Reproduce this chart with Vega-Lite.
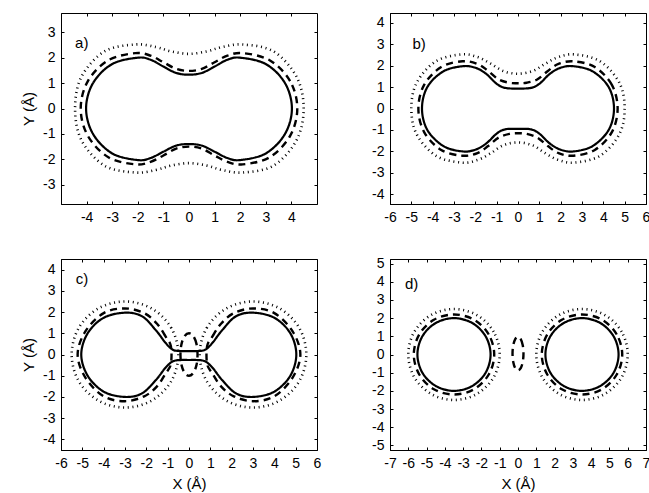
{
"$schema":"https://vega.github.io/schema/vega-lite/v6.json",
"padding":{"left":21,"top":12,"right":4,"bottom":4},
"background":"white",
"config":{"font":"Liberation Sans","view":{"stroke":"black","strokeWidth":1},
"axis":{"labelFont":"Liberation Sans","labelFontSize":14,"labelColor":"black","titleFont":"Liberation Sans","titleFontSize":15,"titleFontWeight":"normal","titleColor":"black","domainColor":"black","tickColor":"black","tickSize":-3,"labelPadding":9,"grid":false,"labelExpr":"toString(datum.value)","titlePadding":6,"labelOverlap":false,"labelFlush":false,"labelBound":false}},
"datasets":{"curves":[
{"p":"a","g":"a1","s":"solid","o":0,"x":4.02,"y":0},{"p":"a","g":"a1","s":"solid","o":1,"x":3.75,"y":1.0},{"p":"a","g":"a1","s":"solid","o":2,"x":3.0,"y":1.75},{"p":"a","g":"a1","s":"solid","o":3,"x":2.0,"y":2.0},{"p":"a","g":"a1","s":"solid","o":4,"x":1.5,"y":1.92},{"p":"a","g":"a1","s":"solid","o":5,"x":1.0,"y":1.65},{"p":"a","g":"a1","s":"solid","o":6,"x":0.5,"y":1.4},{"p":"a","g":"a1","s":"solid","o":7,"x":0,"y":1.33},{"p":"a","g":"a1","s":"solid","o":8,"x":-0.5,"y":1.4},{"p":"a","g":"a1","s":"solid","o":9,"x":-1.0,"y":1.65},{"p":"a","g":"a1","s":"solid","o":10,"x":-1.5,"y":1.92},{"p":"a","g":"a1","s":"solid","o":11,"x":-2.0,"y":2.0},{"p":"a","g":"a1","s":"solid","o":12,"x":-3.0,"y":1.75},{"p":"a","g":"a1","s":"solid","o":13,"x":-3.75,"y":1.0},{"p":"a","g":"a1","s":"solid","o":14,"x":-4.02,"y":0},{"p":"a","g":"a1","s":"solid","o":15,"x":-3.75,"y":-1.0},{"p":"a","g":"a1","s":"solid","o":16,"x":-3.0,"y":-1.77},{"p":"a","g":"a1","s":"solid","o":17,"x":-2.0,"y":-2.03},{"p":"a","g":"a1","s":"solid","o":18,"x":-1.5,"y":-1.95},{"p":"a","g":"a1","s":"solid","o":19,"x":-1.0,"y":-1.7},{"p":"a","g":"a1","s":"solid","o":20,"x":-0.5,"y":-1.46},{"p":"a","g":"a1","s":"solid","o":21,"x":0,"y":-1.4},{"p":"a","g":"a1","s":"solid","o":22,"x":0.5,"y":-1.46},{"p":"a","g":"a1","s":"solid","o":23,"x":1.0,"y":-1.7},{"p":"a","g":"a1","s":"solid","o":24,"x":1.5,"y":-1.95},{"p":"a","g":"a1","s":"solid","o":25,"x":2.0,"y":-2.03},{"p":"a","g":"a1","s":"solid","o":26,"x":3.0,"y":-1.77},{"p":"a","g":"a1","s":"solid","o":27,"x":3.75,"y":-1.0},
{"p":"a","g":"a2","s":"dashed","o":0,"x":4.23,"y":0},{"p":"a","g":"a2","s":"dashed","o":1,"x":3.95,"y":1.08},{"p":"a","g":"a2","s":"dashed","o":2,"x":3.15,"y":1.9},{"p":"a","g":"a2","s":"dashed","o":3,"x":2.1,"y":2.18},{"p":"a","g":"a2","s":"dashed","o":4,"x":1.5,"y":2.08},{"p":"a","g":"a2","s":"dashed","o":5,"x":1.0,"y":1.82},{"p":"a","g":"a2","s":"dashed","o":6,"x":0.5,"y":1.56},{"p":"a","g":"a2","s":"dashed","o":7,"x":0,"y":1.48},{"p":"a","g":"a2","s":"dashed","o":8,"x":-0.5,"y":1.56},{"p":"a","g":"a2","s":"dashed","o":9,"x":-1.0,"y":1.82},{"p":"a","g":"a2","s":"dashed","o":10,"x":-1.5,"y":2.08},{"p":"a","g":"a2","s":"dashed","o":11,"x":-2.1,"y":2.18},{"p":"a","g":"a2","s":"dashed","o":12,"x":-3.15,"y":1.9},{"p":"a","g":"a2","s":"dashed","o":13,"x":-3.95,"y":1.08},{"p":"a","g":"a2","s":"dashed","o":14,"x":-4.23,"y":0},{"p":"a","g":"a2","s":"dashed","o":15,"x":-3.95,"y":-1.08},{"p":"a","g":"a2","s":"dashed","o":16,"x":-3.15,"y":-1.92},{"p":"a","g":"a2","s":"dashed","o":17,"x":-2.1,"y":-2.2},{"p":"a","g":"a2","s":"dashed","o":18,"x":-1.5,"y":-2.1},{"p":"a","g":"a2","s":"dashed","o":19,"x":-1.0,"y":-1.85},{"p":"a","g":"a2","s":"dashed","o":20,"x":-0.5,"y":-1.58},{"p":"a","g":"a2","s":"dashed","o":21,"x":0,"y":-1.5},{"p":"a","g":"a2","s":"dashed","o":22,"x":0.5,"y":-1.58},{"p":"a","g":"a2","s":"dashed","o":23,"x":1.0,"y":-1.85},{"p":"a","g":"a2","s":"dashed","o":24,"x":1.5,"y":-2.1},{"p":"a","g":"a2","s":"dashed","o":25,"x":2.1,"y":-2.2},{"p":"a","g":"a2","s":"dashed","o":26,"x":3.15,"y":-1.92},{"p":"a","g":"a2","s":"dashed","o":27,"x":3.95,"y":-1.08},
{"p":"a","g":"a3","s":"dotted","o":0,"x":4.48,"y":0},{"p":"a","g":"a3","s":"dotted","o":1,"x":4.2,"y":1.25},{"p":"a","g":"a3","s":"dotted","o":2,"x":3.3,"y":2.25},{"p":"a","g":"a3","s":"dotted","o":3,"x":2.1,"y":2.52},{"p":"a","g":"a3","s":"dotted","o":4,"x":1.3,"y":2.42},{"p":"a","g":"a3","s":"dotted","o":5,"x":0.7,"y":2.25},{"p":"a","g":"a3","s":"dotted","o":6,"x":0,"y":2.15},{"p":"a","g":"a3","s":"dotted","o":7,"x":-0.7,"y":2.25},{"p":"a","g":"a3","s":"dotted","o":8,"x":-1.3,"y":2.42},{"p":"a","g":"a3","s":"dotted","o":9,"x":-2.1,"y":2.52},{"p":"a","g":"a3","s":"dotted","o":10,"x":-3.3,"y":2.25},{"p":"a","g":"a3","s":"dotted","o":11,"x":-4.2,"y":1.25},{"p":"a","g":"a3","s":"dotted","o":12,"x":-4.45,"y":0},{"p":"a","g":"a3","s":"dotted","o":13,"x":-4.2,"y":-1.25},{"p":"a","g":"a3","s":"dotted","o":14,"x":-3.3,"y":-2.25},{"p":"a","g":"a3","s":"dotted","o":15,"x":-2.1,"y":-2.52},{"p":"a","g":"a3","s":"dotted","o":16,"x":-1.3,"y":-2.42},{"p":"a","g":"a3","s":"dotted","o":17,"x":-0.7,"y":-2.25},{"p":"a","g":"a3","s":"dotted","o":18,"x":0,"y":-2.15},{"p":"a","g":"a3","s":"dotted","o":19,"x":0.7,"y":-2.25},{"p":"a","g":"a3","s":"dotted","o":20,"x":1.3,"y":-2.42},{"p":"a","g":"a3","s":"dotted","o":21,"x":2.1,"y":-2.52},{"p":"a","g":"a3","s":"dotted","o":22,"x":3.3,"y":-2.25},{"p":"a","g":"a3","s":"dotted","o":23,"x":4.2,"y":-1.25},
{"p":"b","g":"b1","s":"solid","o":0,"x":4.5,"y":0},{"p":"b","g":"b1","s":"solid","o":1,"x":4.25,"y":1.0},{"p":"b","g":"b1","s":"solid","o":2,"x":3.5,"y":1.73},{"p":"b","g":"b1","s":"solid","o":3,"x":2.6,"y":1.97},{"p":"b","g":"b1","s":"solid","o":4,"x":2.0,"y":1.9},{"p":"b","g":"b1","s":"solid","o":5,"x":1.5,"y":1.62},{"p":"b","g":"b1","s":"solid","o":6,"x":1.0,"y":1.15},{"p":"b","g":"b1","s":"solid","o":7,"x":0.6,"y":0.96},{"p":"b","g":"b1","s":"solid","o":8,"x":0,"y":0.93},{"p":"b","g":"b1","s":"solid","o":9,"x":-0.6,"y":0.96},{"p":"b","g":"b1","s":"solid","o":10,"x":-1.0,"y":1.15},{"p":"b","g":"b1","s":"solid","o":11,"x":-1.5,"y":1.62},{"p":"b","g":"b1","s":"solid","o":12,"x":-2.0,"y":1.9},{"p":"b","g":"b1","s":"solid","o":13,"x":-2.6,"y":1.97},{"p":"b","g":"b1","s":"solid","o":14,"x":-3.5,"y":1.73},{"p":"b","g":"b1","s":"solid","o":15,"x":-4.25,"y":1.0},{"p":"b","g":"b1","s":"solid","o":16,"x":-4.5,"y":0},{"p":"b","g":"b1","s":"solid","o":17,"x":-4.25,"y":-1.0},{"p":"b","g":"b1","s":"solid","o":18,"x":-3.5,"y":-1.75},{"p":"b","g":"b1","s":"solid","o":19,"x":-2.6,"y":-2.0},{"p":"b","g":"b1","s":"solid","o":20,"x":-2.0,"y":-1.92},{"p":"b","g":"b1","s":"solid","o":21,"x":-1.5,"y":-1.64},{"p":"b","g":"b1","s":"solid","o":22,"x":-1.0,"y":-1.17},{"p":"b","g":"b1","s":"solid","o":23,"x":-0.6,"y":-0.97},{"p":"b","g":"b1","s":"solid","o":24,"x":0,"y":-0.95},{"p":"b","g":"b1","s":"solid","o":25,"x":0.6,"y":-0.97},{"p":"b","g":"b1","s":"solid","o":26,"x":1.0,"y":-1.17},{"p":"b","g":"b1","s":"solid","o":27,"x":1.5,"y":-1.64},{"p":"b","g":"b1","s":"solid","o":28,"x":2.0,"y":-1.92},{"p":"b","g":"b1","s":"solid","o":29,"x":2.6,"y":-2.0},{"p":"b","g":"b1","s":"solid","o":30,"x":3.5,"y":-1.75},{"p":"b","g":"b1","s":"solid","o":31,"x":4.25,"y":-1.0},
{"p":"b","g":"b2","s":"dashed","o":0,"x":4.67,"y":0},{"p":"b","g":"b2","s":"dashed","o":1,"x":4.4,"y":1.1},{"p":"b","g":"b2","s":"dashed","o":2,"x":3.6,"y":1.93},{"p":"b","g":"b2","s":"dashed","o":3,"x":2.6,"y":2.2},{"p":"b","g":"b2","s":"dashed","o":4,"x":1.9,"y":2.08},{"p":"b","g":"b2","s":"dashed","o":5,"x":1.4,"y":1.75},{"p":"b","g":"b2","s":"dashed","o":6,"x":0.9,"y":1.35},{"p":"b","g":"b2","s":"dashed","o":7,"x":0.4,"y":1.2},{"p":"b","g":"b2","s":"dashed","o":8,"x":0,"y":1.18},{"p":"b","g":"b2","s":"dashed","o":9,"x":-0.4,"y":1.2},{"p":"b","g":"b2","s":"dashed","o":10,"x":-0.9,"y":1.35},{"p":"b","g":"b2","s":"dashed","o":11,"x":-1.4,"y":1.75},{"p":"b","g":"b2","s":"dashed","o":12,"x":-1.9,"y":2.08},{"p":"b","g":"b2","s":"dashed","o":13,"x":-2.6,"y":2.2},{"p":"b","g":"b2","s":"dashed","o":14,"x":-3.6,"y":1.93},{"p":"b","g":"b2","s":"dashed","o":15,"x":-4.4,"y":1.1},{"p":"b","g":"b2","s":"dashed","o":16,"x":-4.67,"y":0},{"p":"b","g":"b2","s":"dashed","o":17,"x":-4.4,"y":-1.1},{"p":"b","g":"b2","s":"dashed","o":18,"x":-3.6,"y":-1.93},{"p":"b","g":"b2","s":"dashed","o":19,"x":-2.6,"y":-2.2},{"p":"b","g":"b2","s":"dashed","o":20,"x":-1.9,"y":-2.08},{"p":"b","g":"b2","s":"dashed","o":21,"x":-1.4,"y":-1.75},{"p":"b","g":"b2","s":"dashed","o":22,"x":-0.9,"y":-1.35},{"p":"b","g":"b2","s":"dashed","o":23,"x":-0.4,"y":-1.18},{"p":"b","g":"b2","s":"dashed","o":24,"x":0,"y":-1.15},{"p":"b","g":"b2","s":"dashed","o":25,"x":0.4,"y":-1.18},{"p":"b","g":"b2","s":"dashed","o":26,"x":0.9,"y":-1.35},{"p":"b","g":"b2","s":"dashed","o":27,"x":1.4,"y":-1.75},{"p":"b","g":"b2","s":"dashed","o":28,"x":1.9,"y":-2.08},{"p":"b","g":"b2","s":"dashed","o":29,"x":2.6,"y":-2.2},{"p":"b","g":"b2","s":"dashed","o":30,"x":3.6,"y":-1.93},{"p":"b","g":"b2","s":"dashed","o":31,"x":4.4,"y":-1.1},
{"p":"b","g":"b3","s":"dotted","o":0,"x":5.0,"y":0},{"p":"b","g":"b3","s":"dotted","o":1,"x":4.75,"y":1.2},{"p":"b","g":"b3","s":"dotted","o":2,"x":3.85,"y":2.2},{"p":"b","g":"b3","s":"dotted","o":3,"x":2.65,"y":2.52},{"p":"b","g":"b3","s":"dotted","o":4,"x":1.9,"y":2.4},{"p":"b","g":"b3","s":"dotted","o":5,"x":1.3,"y":2.1},{"p":"b","g":"b3","s":"dotted","o":6,"x":0.7,"y":1.75},{"p":"b","g":"b3","s":"dotted","o":7,"x":0,"y":1.62},{"p":"b","g":"b3","s":"dotted","o":8,"x":-0.7,"y":1.75},{"p":"b","g":"b3","s":"dotted","o":9,"x":-1.3,"y":2.1},{"p":"b","g":"b3","s":"dotted","o":10,"x":-1.9,"y":2.4},{"p":"b","g":"b3","s":"dotted","o":11,"x":-2.65,"y":2.52},{"p":"b","g":"b3","s":"dotted","o":12,"x":-3.85,"y":2.2},{"p":"b","g":"b3","s":"dotted","o":13,"x":-4.75,"y":1.2},{"p":"b","g":"b3","s":"dotted","o":14,"x":-5.0,"y":0},{"p":"b","g":"b3","s":"dotted","o":15,"x":-4.75,"y":-1.2},{"p":"b","g":"b3","s":"dotted","o":16,"x":-3.85,"y":-2.2},{"p":"b","g":"b3","s":"dotted","o":17,"x":-2.65,"y":-2.52},{"p":"b","g":"b3","s":"dotted","o":18,"x":-1.9,"y":-2.4},{"p":"b","g":"b3","s":"dotted","o":19,"x":-1.3,"y":-2.1},{"p":"b","g":"b3","s":"dotted","o":20,"x":-0.7,"y":-1.72},{"p":"b","g":"b3","s":"dotted","o":21,"x":0,"y":-1.58},{"p":"b","g":"b3","s":"dotted","o":22,"x":0.7,"y":-1.72},{"p":"b","g":"b3","s":"dotted","o":23,"x":1.3,"y":-2.1},{"p":"b","g":"b3","s":"dotted","o":24,"x":1.9,"y":-2.4},{"p":"b","g":"b3","s":"dotted","o":25,"x":2.65,"y":-2.52},{"p":"b","g":"b3","s":"dotted","o":26,"x":3.85,"y":-2.2},{"p":"b","g":"b3","s":"dotted","o":27,"x":4.75,"y":-1.2},
{"p":"c","g":"c1","s":"solid","o":0,"x":5.03,"y":0},{"p":"c","g":"c1","s":"solid","o":1,"x":4.75,"y":1.0},{"p":"c","g":"c1","s":"solid","o":2,"x":4.0,"y":1.73},{"p":"c","g":"c1","s":"solid","o":3,"x":3.0,"y":1.97},{"p":"c","g":"c1","s":"solid","o":4,"x":2.2,"y":1.8},{"p":"c","g":"c1","s":"solid","o":5,"x":1.55,"y":1.14},{"p":"c","g":"c1","s":"solid","o":6,"x":1.1,"y":0.55},{"p":"c","g":"c1","s":"solid","o":7,"x":0.75,"y":0.22},{"p":"c","g":"c1","s":"solid","o":8,"x":0.35,"y":0.16},{"p":"c","g":"c1","s":"solid","o":9,"x":0,"y":0.16},{"p":"c","g":"c1","s":"solid","o":10,"x":-0.35,"y":0.16},{"p":"c","g":"c1","s":"solid","o":11,"x":-0.75,"y":0.22},{"p":"c","g":"c1","s":"solid","o":12,"x":-1.1,"y":0.55},{"p":"c","g":"c1","s":"solid","o":13,"x":-1.55,"y":1.14},{"p":"c","g":"c1","s":"solid","o":14,"x":-2.2,"y":1.8},{"p":"c","g":"c1","s":"solid","o":15,"x":-3.0,"y":1.97},{"p":"c","g":"c1","s":"solid","o":16,"x":-4.0,"y":1.73},{"p":"c","g":"c1","s":"solid","o":17,"x":-4.75,"y":1.0},{"p":"c","g":"c1","s":"solid","o":18,"x":-5.05,"y":0},{"p":"c","g":"c1","s":"solid","o":19,"x":-4.75,"y":-1.0},{"p":"c","g":"c1","s":"solid","o":20,"x":-4.0,"y":-1.75},{"p":"c","g":"c1","s":"solid","o":21,"x":-3.0,"y":-2.0},{"p":"c","g":"c1","s":"solid","o":22,"x":-2.2,"y":-1.83},{"p":"c","g":"c1","s":"solid","o":23,"x":-1.55,"y":-1.2},{"p":"c","g":"c1","s":"solid","o":24,"x":-1.1,"y":-0.62},{"p":"c","g":"c1","s":"solid","o":25,"x":-0.75,"y":-0.32},{"p":"c","g":"c1","s":"solid","o":26,"x":-0.35,"y":-0.26},{"p":"c","g":"c1","s":"solid","o":27,"x":0,"y":-0.26},{"p":"c","g":"c1","s":"solid","o":28,"x":0.35,"y":-0.26},{"p":"c","g":"c1","s":"solid","o":29,"x":0.75,"y":-0.32},{"p":"c","g":"c1","s":"solid","o":30,"x":1.1,"y":-0.62},{"p":"c","g":"c1","s":"solid","o":31,"x":1.55,"y":-1.2},{"p":"c","g":"c1","s":"solid","o":32,"x":2.2,"y":-1.83},{"p":"c","g":"c1","s":"solid","o":33,"x":3.0,"y":-2.0},{"p":"c","g":"c1","s":"solid","o":34,"x":4.0,"y":-1.75},{"p":"c","g":"c1","s":"solid","o":35,"x":4.75,"y":-1.0},
{"p":"c","g":"c2","s":"dashed","o":0,"x":-0.85,"y":0.4},{"p":"c","g":"c2","s":"dashed","o":1,"x":-1.1,"y":0.85},{"p":"c","g":"c2","s":"dashed","o":2,"x":-1.5,"y":1.45},{"p":"c","g":"c2","s":"dashed","o":3,"x":-2.1,"y":1.95},{"p":"c","g":"c2","s":"dashed","o":4,"x":-3.0,"y":2.17},{"p":"c","g":"c2","s":"dashed","o":5,"x":-4.0,"y":1.95},{"p":"c","g":"c2","s":"dashed","o":6,"x":-4.85,"y":1.1},{"p":"c","g":"c2","s":"dashed","o":7,"x":-5.22,"y":0},{"p":"c","g":"c2","s":"dashed","o":8,"x":-4.85,"y":-1.1},{"p":"c","g":"c2","s":"dashed","o":9,"x":-4.0,"y":-1.97},{"p":"c","g":"c2","s":"dashed","o":10,"x":-3.0,"y":-2.2},{"p":"c","g":"c2","s":"dashed","o":11,"x":-2.1,"y":-1.97},{"p":"c","g":"c2","s":"dashed","o":12,"x":-1.5,"y":-1.5},{"p":"c","g":"c2","s":"dashed","o":13,"x":-1.1,"y":-0.9},{"p":"c","g":"c2","s":"dashed","o":14,"x":-0.85,"y":-0.45},
{"p":"c","g":"c3","s":"dashed","o":0,"x":0.85,"y":0.4},{"p":"c","g":"c3","s":"dashed","o":1,"x":1.1,"y":0.85},{"p":"c","g":"c3","s":"dashed","o":2,"x":1.5,"y":1.45},{"p":"c","g":"c3","s":"dashed","o":3,"x":2.1,"y":1.95},{"p":"c","g":"c3","s":"dashed","o":4,"x":3.0,"y":2.17},{"p":"c","g":"c3","s":"dashed","o":5,"x":4.0,"y":1.95},{"p":"c","g":"c3","s":"dashed","o":6,"x":4.85,"y":1.1},{"p":"c","g":"c3","s":"dashed","o":7,"x":5.22,"y":0},{"p":"c","g":"c3","s":"dashed","o":8,"x":4.85,"y":-1.1},{"p":"c","g":"c3","s":"dashed","o":9,"x":4.0,"y":-1.97},{"p":"c","g":"c3","s":"dashed","o":10,"x":3.0,"y":-2.2},{"p":"c","g":"c3","s":"dashed","o":11,"x":2.1,"y":-1.97},{"p":"c","g":"c3","s":"dashed","o":12,"x":1.5,"y":-1.5},{"p":"c","g":"c3","s":"dashed","o":13,"x":1.1,"y":-0.9},{"p":"c","g":"c3","s":"dashed","o":14,"x":0.85,"y":-0.45},
{"p":"c","g":"c4","s":"dashed","o":0,"x":0.4,"y":0},{"p":"c","g":"c4","s":"dashed","o":1,"x":0.35,"y":0.5},{"p":"c","g":"c4","s":"dashed","o":2,"x":0.2,"y":0.87},{"p":"c","g":"c4","s":"dashed","o":3,"x":0,"y":1.0},{"p":"c","g":"c4","s":"dashed","o":4,"x":-0.2,"y":0.87},{"p":"c","g":"c4","s":"dashed","o":5,"x":-0.35,"y":0.5},{"p":"c","g":"c4","s":"dashed","o":6,"x":-0.4,"y":0},{"p":"c","g":"c4","s":"dashed","o":7,"x":-0.35,"y":-0.5},{"p":"c","g":"c4","s":"dashed","o":8,"x":-0.2,"y":-0.87},{"p":"c","g":"c4","s":"dashed","o":9,"x":0,"y":-1.0},{"p":"c","g":"c4","s":"dashed","o":10,"x":0.2,"y":-0.87},{"p":"c","g":"c4","s":"dashed","o":11,"x":0.35,"y":-0.5},
{"p":"c","g":"c5","s":"dotted","o":0,"x":-0.5,"y":0},{"p":"c","g":"c5","s":"dotted","o":1,"x":-0.83,"y":1.25},{"p":"c","g":"c5","s":"dotted","o":2,"x":-1.75,"y":2.17},{"p":"c","g":"c5","s":"dotted","o":3,"x":-3.0,"y":2.5},{"p":"c","g":"c5","s":"dotted","o":4,"x":-4.25,"y":2.17},{"p":"c","g":"c5","s":"dotted","o":5,"x":-5.17,"y":1.25},{"p":"c","g":"c5","s":"dotted","o":6,"x":-5.5,"y":0},{"p":"c","g":"c5","s":"dotted","o":7,"x":-5.17,"y":-1.25},{"p":"c","g":"c5","s":"dotted","o":8,"x":-4.25,"y":-2.17},{"p":"c","g":"c5","s":"dotted","o":9,"x":-3.0,"y":-2.5},{"p":"c","g":"c5","s":"dotted","o":10,"x":-1.75,"y":-2.17},{"p":"c","g":"c5","s":"dotted","o":11,"x":-0.83,"y":-1.25},
{"p":"c","g":"c6","s":"dotted","o":0,"x":0.5,"y":0},{"p":"c","g":"c6","s":"dotted","o":1,"x":0.83,"y":1.25},{"p":"c","g":"c6","s":"dotted","o":2,"x":1.75,"y":2.17},{"p":"c","g":"c6","s":"dotted","o":3,"x":3.0,"y":2.5},{"p":"c","g":"c6","s":"dotted","o":4,"x":4.25,"y":2.17},{"p":"c","g":"c6","s":"dotted","o":5,"x":5.17,"y":1.25},{"p":"c","g":"c6","s":"dotted","o":6,"x":5.5,"y":0},{"p":"c","g":"c6","s":"dotted","o":7,"x":5.17,"y":-1.25},{"p":"c","g":"c6","s":"dotted","o":8,"x":4.25,"y":-2.17},{"p":"c","g":"c6","s":"dotted","o":9,"x":3.0,"y":-2.5},{"p":"c","g":"c6","s":"dotted","o":10,"x":1.75,"y":-2.17},{"p":"c","g":"c6","s":"dotted","o":11,"x":0.83,"y":-1.25},
{"p":"d","g":"d1","s":"solid","o":0,"x":-1.5,"y":0},{"p":"d","g":"d1","s":"solid","o":1,"x":-1.77,"y":1.0},{"p":"d","g":"d1","s":"solid","o":2,"x":-2.5,"y":1.73},{"p":"d","g":"d1","s":"solid","o":3,"x":-3.5,"y":2.0},{"p":"d","g":"d1","s":"solid","o":4,"x":-4.5,"y":1.73},{"p":"d","g":"d1","s":"solid","o":5,"x":-5.23,"y":1.0},{"p":"d","g":"d1","s":"solid","o":6,"x":-5.5,"y":0},{"p":"d","g":"d1","s":"solid","o":7,"x":-5.23,"y":-1.0},{"p":"d","g":"d1","s":"solid","o":8,"x":-4.5,"y":-1.73},{"p":"d","g":"d1","s":"solid","o":9,"x":-3.5,"y":-2.0},{"p":"d","g":"d1","s":"solid","o":10,"x":-2.5,"y":-1.73},{"p":"d","g":"d1","s":"solid","o":11,"x":-1.77,"y":-1.0},
{"p":"d","g":"d2","s":"solid","o":0,"x":5.5,"y":0},{"p":"d","g":"d2","s":"solid","o":1,"x":5.23,"y":1.0},{"p":"d","g":"d2","s":"solid","o":2,"x":4.5,"y":1.73},{"p":"d","g":"d2","s":"solid","o":3,"x":3.5,"y":2.0},{"p":"d","g":"d2","s":"solid","o":4,"x":2.5,"y":1.73},{"p":"d","g":"d2","s":"solid","o":5,"x":1.77,"y":1.0},{"p":"d","g":"d2","s":"solid","o":6,"x":1.5,"y":0},{"p":"d","g":"d2","s":"solid","o":7,"x":1.77,"y":-1.0},{"p":"d","g":"d2","s":"solid","o":8,"x":2.5,"y":-1.73},{"p":"d","g":"d2","s":"solid","o":9,"x":3.5,"y":-2.0},{"p":"d","g":"d2","s":"solid","o":10,"x":4.5,"y":-1.73},{"p":"d","g":"d2","s":"solid","o":11,"x":5.23,"y":-1.0},
{"p":"d","g":"d3","s":"dashed","o":0,"x":-1.3,"y":0},{"p":"d","g":"d3","s":"dashed","o":1,"x":-1.6,"y":1.1},{"p":"d","g":"d3","s":"dashed","o":2,"x":-2.4,"y":1.91},{"p":"d","g":"d3","s":"dashed","o":3,"x":-3.5,"y":2.2},{"p":"d","g":"d3","s":"dashed","o":4,"x":-4.6,"y":1.91},{"p":"d","g":"d3","s":"dashed","o":5,"x":-5.4,"y":1.1},{"p":"d","g":"d3","s":"dashed","o":6,"x":-5.7,"y":0},{"p":"d","g":"d3","s":"dashed","o":7,"x":-5.4,"y":-1.1},{"p":"d","g":"d3","s":"dashed","o":8,"x":-4.6,"y":-1.91},{"p":"d","g":"d3","s":"dashed","o":9,"x":-3.5,"y":-2.2},{"p":"d","g":"d3","s":"dashed","o":10,"x":-2.4,"y":-1.91},{"p":"d","g":"d3","s":"dashed","o":11,"x":-1.6,"y":-1.1},
{"p":"d","g":"d4","s":"dashed","o":0,"x":5.7,"y":0},{"p":"d","g":"d4","s":"dashed","o":1,"x":5.4,"y":1.1},{"p":"d","g":"d4","s":"dashed","o":2,"x":4.6,"y":1.91},{"p":"d","g":"d4","s":"dashed","o":3,"x":3.5,"y":2.2},{"p":"d","g":"d4","s":"dashed","o":4,"x":2.4,"y":1.91},{"p":"d","g":"d4","s":"dashed","o":5,"x":1.6,"y":1.1},{"p":"d","g":"d4","s":"dashed","o":6,"x":1.3,"y":0},{"p":"d","g":"d4","s":"dashed","o":7,"x":1.6,"y":-1.1},{"p":"d","g":"d4","s":"dashed","o":8,"x":2.4,"y":-1.91},{"p":"d","g":"d4","s":"dashed","o":9,"x":3.5,"y":-2.2},{"p":"d","g":"d4","s":"dashed","o":10,"x":4.6,"y":-1.91},{"p":"d","g":"d4","s":"dashed","o":11,"x":5.4,"y":-1.1},
{"p":"d","g":"d5","s":"dotted","o":0,"x":-1.0,"y":0},{"p":"d","g":"d5","s":"dotted","o":1,"x":-1.33,"y":1.25},{"p":"d","g":"d5","s":"dotted","o":2,"x":-2.25,"y":2.17},{"p":"d","g":"d5","s":"dotted","o":3,"x":-3.5,"y":2.5},{"p":"d","g":"d5","s":"dotted","o":4,"x":-4.75,"y":2.17},{"p":"d","g":"d5","s":"dotted","o":5,"x":-5.67,"y":1.25},{"p":"d","g":"d5","s":"dotted","o":6,"x":-6.0,"y":0},{"p":"d","g":"d5","s":"dotted","o":7,"x":-5.67,"y":-1.25},{"p":"d","g":"d5","s":"dotted","o":8,"x":-4.75,"y":-2.17},{"p":"d","g":"d5","s":"dotted","o":9,"x":-3.5,"y":-2.5},{"p":"d","g":"d5","s":"dotted","o":10,"x":-2.25,"y":-2.17},{"p":"d","g":"d5","s":"dotted","o":11,"x":-1.33,"y":-1.25},
{"p":"d","g":"d6","s":"dotted","o":0,"x":6.0,"y":0},{"p":"d","g":"d6","s":"dotted","o":1,"x":5.67,"y":1.25},{"p":"d","g":"d6","s":"dotted","o":2,"x":4.75,"y":2.17},{"p":"d","g":"d6","s":"dotted","o":3,"x":3.5,"y":2.5},{"p":"d","g":"d6","s":"dotted","o":4,"x":2.25,"y":2.17},{"p":"d","g":"d6","s":"dotted","o":5,"x":1.33,"y":1.25},{"p":"d","g":"d6","s":"dotted","o":6,"x":1.0,"y":0},{"p":"d","g":"d6","s":"dotted","o":7,"x":1.33,"y":-1.25},{"p":"d","g":"d6","s":"dotted","o":8,"x":2.25,"y":-2.17},{"p":"d","g":"d6","s":"dotted","o":9,"x":3.5,"y":-2.5},{"p":"d","g":"d6","s":"dotted","o":10,"x":4.75,"y":-2.17},{"p":"d","g":"d6","s":"dotted","o":11,"x":5.67,"y":-1.25},
{"p":"d","g":"d7","s":"dashed","o":0,"x":0.3,"y":0.05},{"p":"d","g":"d7","s":"dashed","o":1,"x":0.26,"y":0.51},{"p":"d","g":"d7","s":"dashed","o":2,"x":0.15,"y":0.85},{"p":"d","g":"d7","s":"dashed","o":3,"x":0,"y":0.97},{"p":"d","g":"d7","s":"dashed","o":4,"x":-0.15,"y":0.85},{"p":"d","g":"d7","s":"dashed","o":5,"x":-0.26,"y":0.51},{"p":"d","g":"d7","s":"dashed","o":6,"x":-0.3,"y":0.05},{"p":"d","g":"d7","s":"dashed","o":7,"x":-0.26,"y":-0.41},{"p":"d","g":"d7","s":"dashed","o":8,"x":-0.15,"y":-0.75},{"p":"d","g":"d7","s":"dashed","o":9,"x":0,"y":-0.87},{"p":"d","g":"d7","s":"dashed","o":10,"x":0.15,"y":-0.75},{"p":"d","g":"d7","s":"dashed","o":11,"x":0.26,"y":-0.41}
]},
"columns":2,
"spacing":{"row":55,"column":73},
"bounds":"flush",
"align":"all",
"concat":[
{"width":256,"height":191,
"layer":[
{"data":{"name":"curves"},"transform":[{"filter":"datum.p==='a'"}],"mark":{"type":"line","interpolate":"cardinal-closed","color":"black"},
"encoding":{"x":{"field":"x","type":"quantitative","scale":{"domain":[-5,5],"nice":false,"zero":false},"axis":{"values":[-4,-3,-2,-1,0,1,2,3,4],"title":null}},
"y":{"field":"y","type":"quantitative","scale":{"domain":[-3.76,3.76],"nice":false,"zero":false},"axis":{"values":[-3,-2,-1,0,1,2,3],"title":"Y (Å)"}},
"detail":{"field":"g"},"order":{"field":"o","type":"quantitative"},
"strokeDash":{"field":"s","type":"nominal","scale":{"domain":["solid","dashed","dotted"],"range":[[1,0],[7,5],[1,3.7]]},"legend":null},
"strokeWidth":{"field":"s","type":"nominal","scale":{"domain":["solid","dashed","dotted"],"range":[2.2,2.6,3.5]},"legend":null}}},
{"data":{"name":"curves"},"transform":[{"filter":"datum.p==='a'"}],"mark":{"type":"line","opacity":0},
"encoding":{"x":{"field":"x","type":"quantitative","scale":{"domain":[-5,5],"nice":false,"zero":false},"axis":{"orient":"top","values":[-4,-3,-2,-1,0,1,2,3,4],"labels":false,"domain":false,"title":null}},
"y":{"field":"y","type":"quantitative","scale":{"domain":[-3.76,3.76],"nice":false,"zero":false},"axis":{"orient":"right","values":[-3,-2,-1,0,1,2,3],"labels":false,"domain":false,"title":null}},"detail":{"field":"g"}}},
{"data":{"values":[{"t":"a)"}]},"mark":{"type":"text","align":"left","baseline":"alphabetic","fontSize":15,"font":"Liberation Sans","color":"black"},
"encoding":{"x":{"datum":-4.45,"type":"quantitative","scale":{"domain":[-5,5],"nice":false,"zero":false},"axis":null},"y":{"datum":2.4,"type":"quantitative","scale":{"domain":[-3.76,3.76],"nice":false,"zero":false},"axis":null},"text":{"field":"t"}}}
],
"resolve":{"axis":{"x":"independent","y":"independent"}}},
{"width":256,"height":191,
"layer":[
{"data":{"name":"curves"},"transform":[{"filter":"datum.p==='b'"}],"mark":{"type":"line","interpolate":"cardinal-closed","color":"black"},
"encoding":{"x":{"field":"x","type":"quantitative","scale":{"domain":[-6,6],"nice":false,"zero":false},"axis":{"values":[-6,-5,-4,-3,-2,-1,0,1,2,3,4,5,6],"title":null}},
"y":{"field":"y","type":"quantitative","scale":{"domain":[-4.45,4.45],"nice":false,"zero":false},"axis":{"values":[-4,-3,-2,-1,0,1,2,3,4],"title":null}},
"detail":{"field":"g"},"order":{"field":"o","type":"quantitative"},
"strokeDash":{"field":"s","type":"nominal","scale":{"domain":["solid","dashed","dotted"],"range":[[1,0],[7,5],[1,3.7]]},"legend":null},
"strokeWidth":{"field":"s","type":"nominal","scale":{"domain":["solid","dashed","dotted"],"range":[2.2,2.6,3.5]},"legend":null}}},
{"data":{"name":"curves"},"transform":[{"filter":"datum.p==='b'"}],"mark":{"type":"line","opacity":0},
"encoding":{"x":{"field":"x","type":"quantitative","scale":{"domain":[-6,6],"nice":false,"zero":false},"axis":{"orient":"top","values":[-6,-5,-4,-3,-2,-1,0,1,2,3,4,5,6],"labels":false,"domain":false,"title":null}},
"y":{"field":"y","type":"quantitative","scale":{"domain":[-4.45,4.45],"nice":false,"zero":false},"axis":{"orient":"right","values":[-4,-3,-2,-1,0,1,2,3,4],"labels":false,"domain":false,"title":null}},"detail":{"field":"g"}}},
{"data":{"values":[{"t":"b)"}]},"mark":{"type":"text","align":"left","baseline":"alphabetic","fontSize":15,"font":"Liberation Sans","color":"black"},
"encoding":{"x":{"datum":-4.95,"type":"quantitative","scale":{"domain":[-6,6],"nice":false,"zero":false},"axis":null},"y":{"datum":2.76,"type":"quantitative","scale":{"domain":[-4.45,4.45],"nice":false,"zero":false},"axis":null},"text":{"field":"t"}}}
],
"resolve":{"axis":{"x":"independent","y":"independent"}}},
{"width":256,"height":191,
"layer":[
{"data":{"name":"curves"},"transform":[{"filter":"datum.p==='c'"}],"mark":{"type":"line","interpolate":"cardinal-closed","color":"black"},
"encoding":{"x":{"field":"x","type":"quantitative","scale":{"domain":[-6,6],"nice":false,"zero":false},"axis":{"values":[-6,-5,-4,-3,-2,-1,0,1,2,3,4,5,6],"title":"X (Å)"}},
"y":{"field":"y","type":"quantitative","scale":{"domain":[-4.5,4.5],"nice":false,"zero":false},"axis":{"values":[-4,-3,-2,-1,0,1,2,3,4],"title":"Y (Å)"}},
"detail":{"field":"g"},"order":{"field":"o","type":"quantitative"},
"strokeDash":{"field":"s","type":"nominal","scale":{"domain":["solid","dashed","dotted"],"range":[[1,0],[7,5],[1,3.7]]},"legend":null},
"strokeWidth":{"field":"s","type":"nominal","scale":{"domain":["solid","dashed","dotted"],"range":[2.2,2.6,3.5]},"legend":null}}},
{"data":{"name":"curves"},"transform":[{"filter":"datum.p==='c'"}],"mark":{"type":"line","opacity":0},
"encoding":{"x":{"field":"x","type":"quantitative","scale":{"domain":[-6,6],"nice":false,"zero":false},"axis":{"orient":"top","values":[-6,-5,-4,-3,-2,-1,0,1,2,3,4,5,6],"labels":false,"domain":false,"title":null}},
"y":{"field":"y","type":"quantitative","scale":{"domain":[-4.5,4.5],"nice":false,"zero":false},"axis":{"orient":"right","values":[-4,-3,-2,-1,0,1,2,3,4],"labels":false,"domain":false,"title":null}},"detail":{"field":"g"}}},
{"data":{"values":[{"t":"c)"}]},"mark":{"type":"text","align":"left","baseline":"alphabetic","fontSize":15,"font":"Liberation Sans","color":"black"},
"encoding":{"x":{"datum":-5.31,"type":"quantitative","scale":{"domain":[-6,6],"nice":false,"zero":false},"axis":null},"y":{"datum":3.32,"type":"quantitative","scale":{"domain":[-4.5,4.5],"nice":false,"zero":false},"axis":null},"text":{"field":"t"}}}
],
"resolve":{"axis":{"x":"independent","y":"independent"}}},
{"width":256,"height":191,
"layer":[
{"data":{"name":"curves"},"transform":[{"filter":"datum.p==='d'"}],"mark":{"type":"line","interpolate":"cardinal-closed","color":"black"},
"encoding":{"x":{"field":"x","type":"quantitative","scale":{"domain":[-7,7],"nice":false,"zero":false},"axis":{"values":[-7,-6,-5,-4,-3,-2,-1,0,1,2,3,4,5,6,7],"title":"X (Å)"}},
"y":{"field":"y","type":"quantitative","scale":{"domain":[-5.25,5.25],"nice":false,"zero":false},"axis":{"values":[-5,-4,-3,-2,-1,0,1,2,3,4,5],"title":null}},
"detail":{"field":"g"},"order":{"field":"o","type":"quantitative"},
"strokeDash":{"field":"s","type":"nominal","scale":{"domain":["solid","dashed","dotted"],"range":[[1,0],[7,5],[1,3.7]]},"legend":null},
"strokeWidth":{"field":"s","type":"nominal","scale":{"domain":["solid","dashed","dotted"],"range":[2.2,2.6,3.5]},"legend":null}}},
{"data":{"name":"curves"},"transform":[{"filter":"datum.p==='d'"}],"mark":{"type":"line","opacity":0},
"encoding":{"x":{"field":"x","type":"quantitative","scale":{"domain":[-7,7],"nice":false,"zero":false},"axis":{"orient":"top","values":[-7,-6,-5,-4,-3,-2,-1,0,1,2,3,4,5,6,7],"labels":false,"domain":false,"title":null}},
"y":{"field":"y","type":"quantitative","scale":{"domain":[-5.25,5.25],"nice":false,"zero":false},"axis":{"orient":"right","values":[-5,-4,-3,-2,-1,0,1,2,3,4,5],"labels":false,"domain":false,"title":null}},"detail":{"field":"g"}}},
{"data":{"values":[{"t":"d)"}]},"mark":{"type":"text","align":"left","baseline":"alphabetic","fontSize":15,"font":"Liberation Sans","color":"black"},
"encoding":{"x":{"datum":-6.18,"type":"quantitative","scale":{"domain":[-7,7],"nice":false,"zero":false},"axis":null},"y":{"datum":3.59,"type":"quantitative","scale":{"domain":[-5.25,5.25],"nice":false,"zero":false},"axis":null},"text":{"field":"t"}}}
],
"resolve":{"axis":{"x":"independent","y":"independent"}}}
]
}
